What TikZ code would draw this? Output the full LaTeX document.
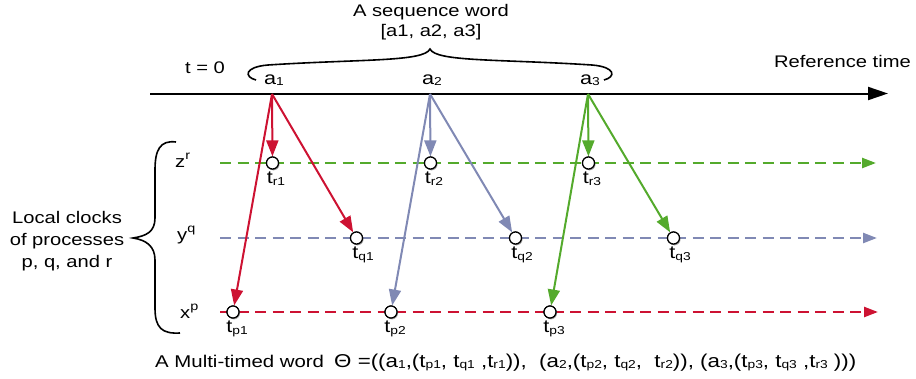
\documentclass[tikz,border=0pt]{standalone}
\usepackage{fontspec}
\setmainfont{Liberation Sans}[FakeStretch=1.2]
\usetikzlibrary{arrows.meta,shadows}
\definecolor{cred}{RGB}{205,18,50}
\definecolor{cblue}{RGB}{128,137,180}
\definecolor{cgreen}{RGB}{84,170,44}
\newcommand\lsub[1]{\raisebox{-0.15ex}{\fontsize{11.5}{11.5}\selectfont #1}}
\newcommand\usup[1]{\raisebox{0.85ex}{\fontsize{12}{12}\selectfont #1}}
\begin{document}
\begin{tikzpicture}[x=1pt,y=-1pt,font=\fontsize{16.8}{22}\selectfont,
  evt/.style={circle,draw=black,line width=1.2pt,fill=white,minimum size=12pt,inner sep=0pt,
    drop shadow={shadow xshift=1pt,shadow yshift=-1.3pt,opacity=0.45}},
  tlab/.style={anchor=north,inner sep=0pt,font=\fontsize{18}{20}\selectfont},
  send/.style={line width=2pt,-{Triangle[length=16pt,width=12pt]}},
  clock/.style={line width=2.4pt,dash pattern=on 11pt off 6.5pt,-{Triangle[length=14pt,width=10pt]}},
  txt/.style={inner sep=0pt}
]
\useasboundingbox (0,0) rectangle (916,378);
% main time line
\coordinate (tl0) at (150,93.5);
\coordinate (tl1) at (888,93.5);
\draw[line width=2pt,-{Triangle[length=20pt,width=13pt]}] (tl0) -- (tl1);
\coordinate (a1) at (272,94);
\coordinate (a2) at (430,94);
\coordinate (a3) at (588,94);
% top texts
\node[txt,anchor=base] (seqw) at (431,16) {A sequence word};
\node[txt,anchor=base] (seql) at (431,36) {[a1, a2, a3]};
\node[txt,anchor=base] (t0) at (205,73) {t = 0};
\node[txt,anchor=base,font=\fontsize{18}{20}\selectfont] (la1) at (274,84) {a\lsub{1}};
\node[txt,anchor=base,font=\fontsize{18}{20}\selectfont] (la2) at (432,84) {a\lsub{2}};
\node[txt,anchor=base,font=\fontsize{18}{20}\selectfont] (la3) at (590,84) {a\lsub{3}};
\node[txt,anchor=base east] (reft) at (911,67) {Reference time};
% top brace
\draw[line width=1.6pt] (256,80) .. controls (244,77) and (244,67) .. (268,65)
  .. controls (360,59) and (424,62) .. (430,49)
  .. controls (436,62) and (500,59) .. (592,65)
  .. controls (616,67) and (616,77) .. (604,80);
% clock lines
\coordinate (zs) at (220,163); \coordinate (ze) at (876,163);
\coordinate (ys) at (220,238); \coordinate (ye) at (877,238);
\coordinate (xs) at (220,312); \coordinate (xe) at (878,312);
\draw[clock,cgreen] (zs) -- (ze);
\draw[clock,cblue] (ys) -- (ye);
\draw[clock,cred] (xs) -- (xe);
\node[txt,anchor=base west] (lz) at (175,167) {z\usup{r}};
\node[txt,anchor=base west] (ly) at (177,240) {y\usup{q}};
\node[txt,anchor=base west] (lx) at (180,318) {x\usup{p}};
% left brace
\draw[line width=1.6pt] (176,142) .. controls (160,140) and (155,150) .. (155,170)
  -- (155,218) .. controls (155,232) and (146,236) .. (133,238)
  .. controls (146,240) and (155,246) .. (155,260)
  -- (155,308) .. controls (155,328) and (162,334) .. (180,333);
\node[txt,align=center] (lcl) at (67,241) {Local clocks\\of processes\\p, q, and r};
% events
\node[evt] (tr1) at (272.5,163) {};
\node[evt] (tq1) at (356.5,238) {};
\node[evt] (tp1) at (233,312) {};
\node[evt] (tr2) at (430.5,163) {};
\node[evt] (tq2) at (515.5,238) {};
\node[evt] (tp2) at (391,312) {};
\node[evt] (tr3) at (588.5,163) {};
\node[evt] (tq3) at (673.5,238) {};
\node[evt] (tp3) at (550,312) {};
% sends
\draw[send,cred] (a1) -- (tr1);
\draw[send,cred] (a1) -- (tq1);
\draw[send,cred] (a1) -- (tp1);
\draw[send,cblue] (a2) -- (tr2);
\draw[send,cblue] (a2) -- (tq2);
\draw[send,cblue] (a2) -- (tp2);
\draw[send,cgreen] (a3) -- (tr3);
\draw[send,cgreen] (a3) -- (tq3);
\draw[send,cgreen] (a3) -- (tp3);
% redraw events on top
\node[evt] at (tr1) {};
\node[evt] at (tq1) {};
\node[evt] at (tp1) {};
\node[evt] at (tr2) {};
\node[evt] at (tq2) {};
\node[evt] at (tp2) {};
\node[evt] at (tr3) {};
\node[evt] at (tq3) {};
\node[evt] at (tp3) {};
% event labels
\node[tlab] (ltr1) at (276,172) {t\lsub{r1}};
\node[tlab] (ltq1) at (363,247) {t\lsub{q1}};
\node[tlab] (ltp1) at (237,321) {t\lsub{p1}};
\node[tlab] (ltr2) at (434,172) {t\lsub{r2}};
\node[tlab] (ltq2) at (522,247) {t\lsub{q2}};
\node[tlab] (ltp2) at (395,321) {t\lsub{p2}};
\node[tlab] (ltr3) at (592,172) {t\lsub{r3}};
\node[tlab] (ltq3) at (680,247) {t\lsub{q3}};
\node[tlab] (ltp3) at (554,321) {t\lsub{p3}};
% bottom
\node[txt,anchor=base west,font=\fontsize{17}{20}\selectfont] (mtw) at (155,367) {A Multi-timed word};
\node[txt,anchor=base west,font=\fontsize{18.6}{20}\selectfont] (form) at (334,367)
  {Θ =((a\lsub{1},(t\lsub{p1}, t\lsub{q1} ,t\lsub{r1})),\ \ (a\lsub{2},(t\lsub{p2}, t\lsub{q2},\ \ t\lsub{r2})), (a\lsub{3},(t\lsub{p3}, t\lsub{q3} ,t\lsub{r3} )))};
\end{tikzpicture}
\end{document}
